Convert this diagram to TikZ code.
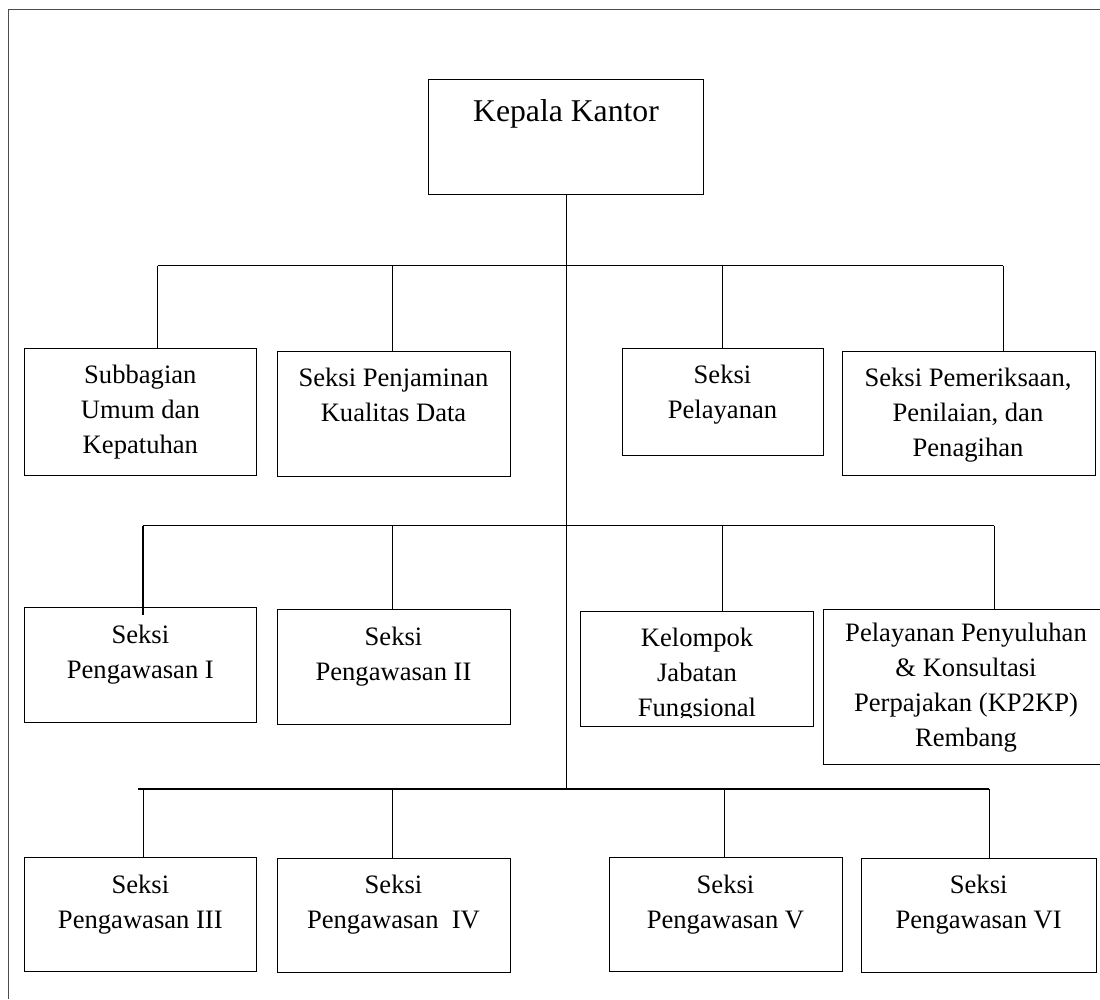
\documentclass[tikz,border=0pt]{standalone}
\usepackage{fontspec}
\setmainfont{Liberation Serif}
\newcommand{\fl}{\rule{0pt}{20pt}}
\newcommand{\mkbox}[5]{\node[orgbox, minimum width={#3-#2}, minimum height={#5-#4}] (#1) at ({(#2+#3)/2},{(#4+#5)/2}) {};}
\tikzset{
  orgbox/.style={draw=black, line width=1pt, rectangle, inner sep=0pt, outer sep=0pt},
  lbl/.style={anchor=north, inner sep=0pt, outer sep=0pt, align=center, font=\fontsize{26.6}{35}\selectfont},
  conn/.style={draw=black, line width=1pt},
  bus/.style={draw=black, line width=1.7pt},
  frameline/.style={draw=black!70, line width=1.3pt}
}
\begin{document}
\begin{tikzpicture}[x=1pt,y=-1pt]
\useasboundingbox (0,0) rectangle (1100,999);
% outer frame
\coordinate (fbl) at (8.3,999);
\coordinate (ftl) at (8.3,9.3);
\coordinate (ftr) at (1100,9.3);
\draw[frameline] (fbl) -- (ftl) -- (ftr);

% boxes
\mkbox{kep}{428}{703}{79.3}{194.3}
\mkbox{sub}{24}{256.7}{348.3}{475.7}
\mkbox{pen}{277}{510}{351.7}{476}
\mkbox{pel}{622}{823}{348.7}{455}
\mkbox{pem}{842.3}{1095}{351.7}{475}
\mkbox{pa}{24}{256.7}{607.7}{722}
\mkbox{pb}{277}{510}{609}{724}
\mkbox{kel}{580.7}{813.3}{611.7}{726}
\mkbox{kp}{823.3}{1108}{609}{764.3}
\mkbox{pc}{24}{256.7}{857}{971}
\mkbox{pd}{277}{510}{858}{972}
\mkbox{pe}{609}{842}{857}{971}
\mkbox{pf}{861}{1096.5}{858}{972}

% labels
\node[anchor=base, inner sep=0pt, font=\fontsize{31.7}{38}\selectfont] (tkep) at (566,121.7) {Kepala Kantor};
\node[lbl] (tsub) at (140.35,363.5) {\fl Subbagian\\Umum dan\\Kepatuhan};
\node[lbl] (tpen) at (393.5,366.7) {\fl Seksi Penjaminan\\Kualitas Data};
\node[lbl] (tpel) at (722.5,363.3) {\fl Seksi\\Pelayanan};
\node[lbl] (tpem) at (968,366.7) {\fl Seksi Pemeriksaan,\\Penilaian, dan\\Penagihan};
\node[lbl] (tpa) at (140.35,623.3) {\fl Seksi\\Pengawasan I};
\node[lbl] (tpb) at (393.5,625) {\fl Seksi\\Pengawasan II};
\begin{scope}
  \clip (575,600) rectangle (820,717.5);
  \node[lbl] (tkel) at (697,626) {\fl Kelompok\\Jabatan\\Fungsional};
\end{scope}
\node[lbl] (tkp) at (966,621.7) {\fl Pelayanan Penyuluhan\\\&{} Konsultasi\\Perpajakan (KP2KP)\\Rembang};
\node[lbl] (tpc) at (140.35,873) {\fl Seksi\\Pengawasan III};
\node[lbl] (tpd) at (393.5,873) {\fl Seksi\\Pengawasan\ \ IV};
\node[lbl] (tpe) at (725.5,873) {\fl Seksi\\Pengawasan V};
\node[lbl] (tpf) at (978.7,873) {\fl Seksi\\Pengawasan VI};

% trunk and buses
\coordinate (r1l) at (157.5,265.5);
\coordinate (r1b) at (392.5,265.5);
\coordinate (r1c) at (722,265.5);
\coordinate (r1r) at (1003,265.5);
\coordinate (r2l) at (143,525.5);
\coordinate (r2b) at (392.5,525.5);
\coordinate (r2c) at (722.5,525.5);
\coordinate (r2r) at (994,525.5);
\coordinate (r3s) at (138,789);
\coordinate (r3a) at (143,789);
\coordinate (r3b) at (392.5,789);
\coordinate (r3c) at (724,789);
\coordinate (r3r) at (989,789);
\coordinate (trk) at (566.7,789);
\coordinate (p1end) at (143,615);

\draw[conn] (kep.south -| trk) -- (trk);
\draw[conn] (r1l) -- (r1r);
\draw[bus] (r2l) -- (r2r);
\draw[bus] (r3s) -- (r3r);

\draw[conn] (r1l) -- (r1l |- sub.north);
\draw[conn] (r1b) -- (r1b |- pen.north);
\draw[conn] (r1c) -- (r1c |- pel.north);
\draw[conn] (r1r) -- (r1r |- pem.north);

\draw[bus] (r2l) -- (p1end);
\draw[conn] (r2b) -- (r2b |- pb.north);
\draw[conn] (r2c) -- (r2c |- kel.north);
\draw[conn] (r2r) -- (r2r |- kp.north);

\draw[conn] (r3a) -- (r3a |- pc.north);
\draw[conn] (r3b) -- (r3b |- pd.north);
\draw[conn] (r3c) -- (r3c |- pe.north);
\draw[conn] (r3r) -- (r3r |- pf.north);
\end{tikzpicture}
\end{document}
